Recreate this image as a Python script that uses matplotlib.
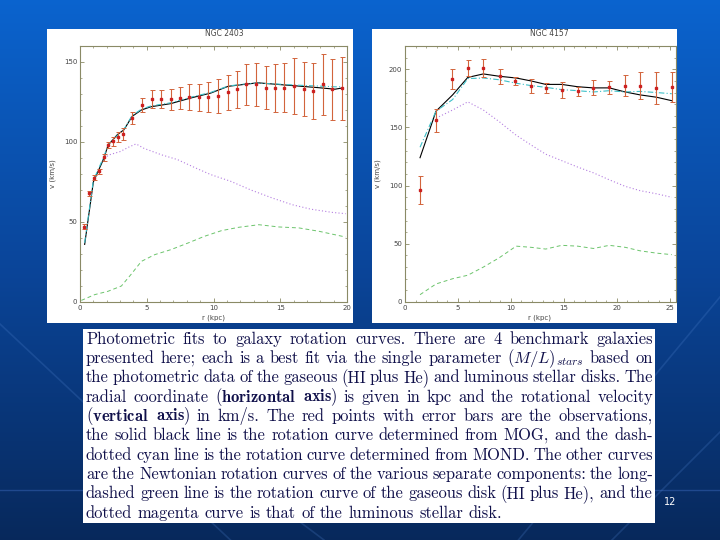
import numpy as np
import matplotlib
matplotlib.use("Agg")
import matplotlib.pyplot as plt
from matplotlib.patches import Rectangle
from matplotlib.ticker import MultipleLocator

# ---------------- data ----------------
# NGC 2403
r_obs_2403 = [0.33, 0.7, 1.03, 1.4, 1.78, 2.13, 2.5, 2.88, 3.2, 3.88, 4.63, 5.38, 6.08, 6.78, 7.5, 8.2,
              8.9, 9.6, 10.35, 11.05, 11.75, 12.45, 13.2, 13.9, 14.6, 15.3, 16.0, 16.75, 17.45, 18.2, 18.9, 19.6]
v_obs_2403 = [47, 68, 77.7, 81.7, 90.4, 98, 100.4, 103, 105, 115, 123, 127, 127, 126.7, 127.5, 128,
              128, 128, 128.8, 131, 133, 136, 136, 134, 134, 134, 135, 133, 132, 136, 133, 133.5]
e_obs_2403 = [1.5, 1.5, 1.5, 1.5, 2, 2, 3, 3, 3.5, 3.6, 4.5, 5.6, 5.8, 6.5, 7, 8,
              8.5, 9.5, 10.5, 10.8, 11.5, 13, 13.2, 13.5, 15, 15.3, 17.5, 17, 17.5, 19, 19, 19.5]
r_mog_2403 = [0.35, 1.0, 1.8, 2.1, 2.8, 3.3, 3.9, 4.6, 5.3, 6.8, 8.3, 9.8, 11.1, 12.3, 13.3, 14.8, 16.3, 17.8, 19.1, 19.6]
v_mog_2403 = [36, 75, 90, 98, 104.6, 107.7, 116, 120, 122, 124, 127.5, 130.6, 134.8, 136, 137, 136, 135, 134, 133, 133.7]
v_mond_2403 = [37, 76, 91, 98.5, 104, 108, 116.5, 120.5, 122.5, 124.5, 128, 131, 135, 136.2, 136.8, 136.2, 135.5, 135, 134.5, 134.5]
r_star_2403 = [1.8, 2.2, 3.0, 3.7, 4.2, 4.8, 6.1, 7.3, 8.6, 9.8, 11.3, 12.8, 14.4, 15.9, 17.3, 18.9, 19.9]
v_star_2403 = [90, 92, 94, 97, 98.8, 96, 92, 89, 84, 79.6, 75.4, 70, 65, 60.8, 58, 56, 55.2]
r_gas_2403 = [0.1, 1.1, 2.1, 3.1, 3.8, 4.6, 5.6, 6.8, 8.1, 9.3, 10.6, 11.9, 13.4, 14.9, 16.4, 17.9, 19.9]
v_gas_2403 = [1, 4.6, 6.7, 10, 17, 25.4, 29.6, 32.7, 36.9, 41, 44.6, 46.7, 48.3, 46.9, 46.3, 44.2, 40.6]

# NGC 4157
r_obs_4157 = [1.42, 2.93, 4.42, 5.93, 7.41, 8.93, 10.4, 11.9, 13.3, 14.8, 16.3, 17.8, 19.3, 20.8, 22.2, 23.75, 25.2]
v_obs_4157 = [96, 156, 192, 201, 201, 194, 190, 186, 184, 182, 181, 184, 184.5, 186, 186, 184, 185]
e_obs_4157 = [12, 10, 8.6, 7, 7.5, 6.5, 3.5, 6, 4, 7, 4, 6.5, 5.5, 9, 11.5, 14, 13]
r_mod_4157 = [1.42, 2.93, 4.5, 5.93, 7.4, 8.9, 10.5, 11.9, 13.3, 14.8, 16.3, 17.8, 19.3, 20.8, 22.2, 23.75, 25.2]
v_mog_4157 = [124, 164, 178, 193, 196, 194, 192.5, 190, 187, 187, 185, 184, 184, 180.5, 178, 176, 173]
v_mond_4157 = [133, 164, 174, 192, 192.5, 191, 188, 186, 184.5, 182.5, 181.6, 180.5, 181.6, 180.5, 181, 180, 179]
r_star_4157 = [2.93, 4.5, 5.93, 7.4, 8.9, 10.4, 11.9, 13.3, 14.8, 16.3, 17.8, 19.3, 20.8, 22.2, 23.75, 25.2]
v_star_4157 = [158, 165, 172, 165, 155, 144, 135, 127, 121.5, 116, 111, 105, 99.4, 95.7, 93, 90]
v_gas_4157 = [6.3, 15.5, 20, 23, 30, 38, 48, 47, 45.5, 48.7, 48, 46, 48.7, 47, 44, 42, 40.7]

titles = ["NGC 2403", "NGC 4157"]
caption_lines = [
    "Photometric fits to galaxy rotation curves.  There are 4 benchmark galaxies",
    "presented here; each is a best fit via the single parameter $(M/L)_{stars}$ based on",
    "the photometric data of the gaseous (HI plus He) and luminous stellar disks.  The",
    r"radial coordinate ($\mathbf{horizontal}$ $\mathbf{axis}$) is given in kpc and the rotational velocity",
    r"$\mathbf{(vertical}$ $\mathbf{axis)}$ in km/s.  The red points with error bars are the observations,",
    "the solid black line is the rotation curve determined from MOG, and the dash-",
    "dotted cyan line is the rotation curve determined from MOND. The other curves",
    "are the Newtonian rotation curves of the various separate components: the long-",
    "dashed green line is the rotation curve of the gaseous disk (HI plus He), and the",
    "dotted magenta curve is that of the luminous stellar disk.",
]
page_number = "12"

# ---------------- figure ----------------
W, H = 720, 540
fig = plt.figure(figsize=(7.2, 5.4), dpi=100)
plt.rcParams['mathtext.fontset'] = 'cm'

def fx(px):
    return px / W

def fy(py):
    return 1 - py / H

# background gradient
bg = fig.add_axes([0, 0, 1, 1], zorder=-10)
top = np.array([0.04, 0.39, 0.81])
mid = np.array([0.04, 0.27, 0.60])
bot = np.array([0.03, 0.16, 0.36])
t = np.linspace(0, 1, 256)[:, None]
grad = np.where(t < 0.5, top + (mid - top) * (t / 0.5), mid + (bot - mid) * ((t - 0.5) / 0.5))
img = np.repeat(grad[:, None, :], 4, axis=1)
bg.imshow(img, aspect='auto', extent=[0, 1, 0, 1], origin='upper')
for x0, x1, y0, y1 in [(0.0, 0.32, 0.40, 0.0), (0.15, 0.45, 0.30, 0.0), (0.72, 1.0, 0.0, 0.45), (0.85, 1.0, 0.0, 0.2)]:
    bg.plot([x0, x1], [y0, y1], color=(0.3, 0.5, 0.8), alpha=0.25, lw=1.2)
bg.plot([0, 1], [fy(490), fy(490)], color=(0.3, 0.5, 0.85), alpha=0.35, lw=1)
bg.set_xlim(0, 1)
bg.set_ylim(0, 1)
bg.axis('off')

# white boxes
for (x0, y0, x1, y1) in [(47, 29, 353, 323), (372, 29, 677, 323), (83, 329, 655, 523)]:
    fig.patches.append(Rectangle((fx(x0), fy(y1)), fx(x1 - x0), (y1 - y0) / H,
                                 transform=fig.transFigure, facecolor='white', edgecolor='none', zorder=-5))

frame_c = '#8a8a66'
lab_c = '#444444'

def style(ax, xmaj, xmin, ymaj, ymin):
    for s in ax.spines.values():
        s.set_color(frame_c)
        s.set_linewidth(0.8)
    ax.xaxis.set_major_locator(MultipleLocator(xmaj))
    ax.xaxis.set_minor_locator(MultipleLocator(xmin))
    ax.yaxis.set_major_locator(MultipleLocator(ymaj))
    ax.yaxis.set_minor_locator(MultipleLocator(ymin))
    ax.tick_params(which='both', direction='in', top=True, right=True, color=frame_c,
                   labelsize=5, labelcolor=lab_c, pad=2)
    ax.tick_params(which='major', length=3, width=0.6)
    ax.tick_params(which='minor', length=1.5, width=0.5)
    ax.set_facecolor('white')

err_c = '#d2643c'
pt_c = '#cc2020'

# left panel
ax1 = fig.add_axes([fx(80), fy(302), fx(347 - 80), (302 - 46) / H])
ax1.plot(r_gas_2403, v_gas_2403, color='#6cc46c', lw=0.7, ls=(0, (4, 3)))
ax1.plot(r_star_2403, v_star_2403, color='#b47ee0', lw=0.8, ls=(0, (1, 2)))
ax1.plot(r_mog_2403, v_mog_2403, color='black', lw=0.8)
ax1.plot(r_mog_2403, v_mond_2403, color='#3cc0c8', lw=0.8, ls=(0, (5, 2, 1, 2)))
ax1.errorbar(r_obs_2403, v_obs_2403, yerr=e_obs_2403, fmt='s', ms=2, color=pt_c,
             ecolor=err_c, elinewidth=0.8, capsize=1.8, capthick=0.7, zorder=3)
ax1.set_xlim(0, 20)
ax1.set_ylim(0, 160)
style(ax1, 5, 1, 50, 10)

# right panel
ax2 = fig.add_axes([fx(405), fy(302), fx(676 - 405), (302 - 46) / H])
ax2.plot(r_mod_4157, v_gas_4157, color='#6cc46c', lw=0.7, ls=(0, (4, 3)))
ax2.plot(r_star_4157, v_star_4157, color='#b47ee0', lw=0.8, ls=(0, (1, 2)))
ax2.plot(r_mod_4157, v_mog_4157, color='black', lw=0.8)
ax2.plot(r_mod_4157, v_mond_4157, color='#3cc0c8', lw=0.8, ls=(0, (5, 2, 1, 2)))
ax2.errorbar(r_obs_4157, v_obs_4157, yerr=e_obs_4157, fmt='s', ms=2, color=pt_c,
             ecolor=err_c, elinewidth=0.8, capsize=1.8, capthick=0.7, zorder=3)
ax2.set_xlim(0, 25.6)
ax2.set_ylim(0, 220)
style(ax2, 5, 1, 50, 10)

# titles and axis labels
fig.text(fx(224), fy(33), titles[0], ha='center', va='center', fontsize=5.5, color=lab_c)
fig.text(fx(549), fy(33), titles[1], ha='center', va='center', fontsize=5.5, color=lab_c)
for xl, xc in [(53, 213), (378, 540)]:
    fig.text(fx(xl), fy(174), 'v (km/s)', rotation=90, ha='center', va='center', fontsize=5, color=lab_c)
    fig.text(fx(xc), fy(318), 'r (kpc)', ha='center', va='center', fontsize=5, color=lab_c)

# page number
fig.text(fx(670), fy(502), page_number, ha='center', va='center', fontsize=7, color='white')

# caption with justified lines
cap_left, cap_right = 86, 653
line_top, line_h = 339, 19.35
fs = 11.9
txt_c = '#10104a'
fig.canvas.draw()
renderer = fig.canvas.get_renderer()
for i, line in enumerate(caption_lines):
    words = line.split(' ')
    words = [w for w in words if w != '']
    ypx = line_top + i * line_h
    objs = []
    widths = []
    for w in words:
        tt = fig.text(0, fy(ypx), w, fontsize=fs, family='cmr10', color=txt_c, ha='left', va='center')
        objs.append(tt)
        widths.append(tt.get_window_extent(renderer).width)
    total = sum(widths)
    if i < len(caption_lines) - 1 and len(words) > 1:
        gap = (cap_right - cap_left - total) / (len(words) - 1)
    else:
        gap = fs * 1.389 * 0.33
    x = cap_left
    for tt, w in zip(objs, widths):
        tt.set_x(fx(x))
        x += w + gap

fig.savefig('out.png', dpi=100)
